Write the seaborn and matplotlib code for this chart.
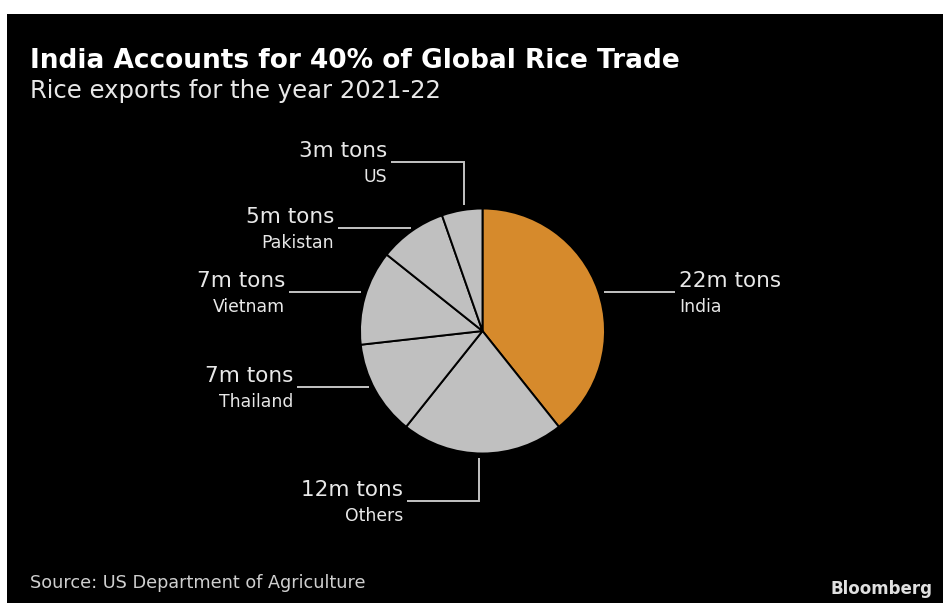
import numpy as np
import matplotlib
matplotlib.use("Agg")
import matplotlib.pyplot as plt
from matplotlib.patches import Rectangle
import seaborn as sns

# ---------------- data ----------------
countries = ["India", "Others", "Thailand", "Vietnam", "Pakistan", "US"]
exports_mt = [22, 12, 7, 7, 5, 3]
value_labels = [f"{v}m tons" for v in exports_mt]
title = "India Accounts for 40% of Global Rice Trade"
subtitle = "Rice exports for the year 2021-22"
source = "Source: US Department of Agriculture"
brand = "Bloomberg"

# ---------------- style / layout ----------------
sns.set_theme(style="white")
plt.rcParams["font.family"] = ["DejaVu Sans"]

W, H = 943, 603
slice_colors = ["#d68a2c", "#c0c0c0", "#c0c0c0", "#c0c0c0", "#c0c0c0", "#c0c0c0"]
line_color = "#c4c4c4"
text_color = "#e8e8e8"

cx, cy, r = 482.5, 331.0, 122.5   # pie centre / radius in pixels
gap = 5.0

# leader layout: kind, position (y for 'h', x for 'v'), elbow y, outer x
leader_kind = ["h", "v", "h", "h", "h", "v"]
leader_pos = [292, 479, 387, 292, 228, 464]
leader_elbow = [None, 501, None, None, None, 162]
leader_outer = [675, 407, 297, 289, 338, 391]

fig = plt.figure(figsize=(W / 100, H / 100), dpi=100)
fig.patch.set_facecolor("white")

# overlay axes in pixel coordinates
ov = fig.add_axes([0, 0, 1, 1])
ov.set_xlim(0, W)
ov.set_ylim(H, 0)
ov.axis("off")
ov.add_patch(Rectangle((7, 14), W - 7, H - 14, facecolor="black", edgecolor="none", zorder=0))

# pie axes
pax = fig.add_axes([(cx - r) / W, (H - cy - r) / H, 2 * r / W, 2 * r / H])
pax.set_facecolor("none")
pax.pie(exports_mt, colors=slice_colors, startangle=90, counterclock=False,
        radius=1.0, wedgeprops=dict(edgecolor="black", linewidth=1.4))
pax.set_xlim(-1, 1)
pax.set_ylim(-1, 1)
pax.axis("off")

vfs, nfs = 15.5, 12.4
for i in range(len(countries)):
    kind = leader_kind[i]
    outer = leader_outer[i]
    if kind == "h":
        y = leader_pos[i]
        half = np.sqrt(r ** 2 - (y - cy) ** 2) + gap
        x0 = cx + half if outer > cx else cx - half
        ov.plot([x0, outer], [y, y], color=line_color, lw=1.4, solid_capstyle="butt")
        ly = y
    else:
        x = leader_pos[i]
        ey = leader_elbow[i]
        half = np.sqrt(r ** 2 - (x - cx) ** 2) + gap
        y0 = cy + half if ey > cy else cy - half
        ov.plot([x, x, outer], [y0, ey, ey], color=line_color, lw=1.4,
                solid_capstyle="butt", solid_joinstyle="miter")
        ly = ey
    if outer > cx:
        tx, ha = outer + 4, "left"
    else:
        tx, ha = outer - 4, "right"
    ov.text(tx, ly - 5, value_labels[i], color=text_color, fontsize=vfs, ha=ha, va="baseline")
    ov.text(tx, ly + 20, countries[i], color=text_color, fontsize=nfs, ha=ha, va="baseline")

ov.text(30, 68, title, color="white", fontsize=19, fontweight="bold", ha="left", va="baseline")
ov.text(30, 98, subtitle, color=text_color, fontsize=17.5, ha="left", va="baseline")
ov.text(30, 588, source, color="#cfcfcf", fontsize=12.7, ha="left", va="baseline")
ov.text(933, 594, brand, color="#e0e0e0", fontsize=12, fontweight="bold", ha="right", va="baseline")

fig.savefig("out.png", dpi=100, facecolor=fig.get_facecolor())
